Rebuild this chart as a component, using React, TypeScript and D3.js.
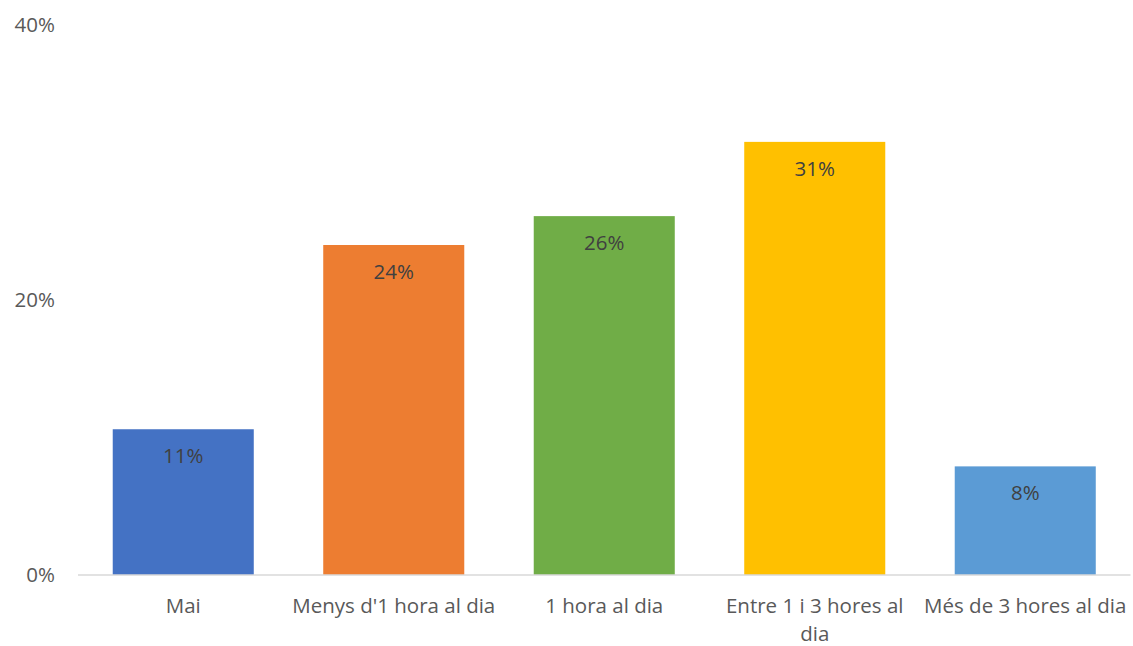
import React from "react";
import * as d3 from "d3";

const categories = ["Mai", "Menys d'1 hora al dia", "1 hora al dia", "Entre 1 i 3 hores al dia", "Més de 3 hores al dia"];
const values = [10.6, 24.0, 26.1, 31.5, 7.9];
const labels = ["11%", "24%", "26%", "31%", "8%"];
const colors = ["#4472C4", "#ED7D31", "#70AD47", "#FFC000", "#5B9BD5"];
const yTicks = [0, 20, 40];
const catLines = [["Mai"], ["Menys d'1 hora al dia"], ["1 hora al dia"], ["Entre 1 i 3 hores al", "dia"], ["Més de 3 hores al dia"]];

export default function App() {
  const W = 1133, H = 646;
  const x = d3.scaleBand<string>().domain(categories).range([78, 1130.5]).paddingInner(0.33).paddingOuter(0.165);
  const y = d3.scaleLinear().domain([0, 40]).range([575, 25]);
  const font = "'Open Sans', sans-serif";
  const fs = 20.5;
  return (
    <svg width={W} height={H} style={{ position: "absolute", left: 0, top: 0 }} fontFamily={font}>
      <rect width={W} height={H} fill="#fff" />
      {yTicks.map(t => (
        <text key={t} x={55} y={y(t)} dy="0.35em" textAnchor="end" fontSize={fs} fill="#595959">{t}%</text>
      ))}
      {categories.map((c, i) => (
        <rect key={c} x={x(c)} y={y(values[i])} width={x.bandwidth()} height={y(0) - y(values[i])} fill={colors[i]} />
      ))}
      <line x1={78} x2={1130.5} y1={y(0)} y2={y(0)} stroke="#D9D9D9" strokeWidth={1.5} />
      {categories.map((c, i) => (
        <text key={c + "l"} x={(x(c) as number) + x.bandwidth() / 2} y={y(values[i]) + 34} textAnchor="middle" fontSize={fs} fill="#404040">{labels[i]}</text>
      ))}
      {categories.map((c, i) => (
        <text key={c + "c"} textAnchor="middle" fontSize={fs} fill="#595959">
          {catLines[i].map((ln, j) => (
            <tspan key={j} x={(x(c) as number) + x.bandwidth() / 2} y={613 + j * 28}>{ln}</tspan>
          ))}
        </text>
      ))}
    </svg>
  );
}
